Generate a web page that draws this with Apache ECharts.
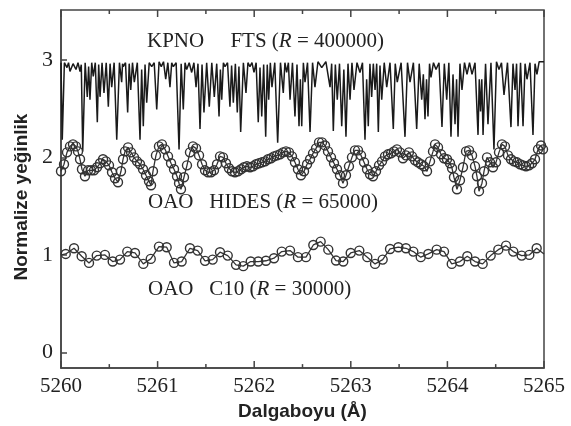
<!DOCTYPE html>
<html>
<head>
<meta charset="utf-8">
<script src="https://cdn.jsdelivr.net/npm/echarts@6/dist/echarts.min.js"></script>
<style>
html, body { margin: 0; padding: 0; background: #fff; }
#chart { width: 571px; height: 426px; }
</style>
</head>
<body>
<div id="chart"></div>
<script>
// tick labels
var xTicks = [5260, 5261, 5262, 5263, 5264, 5265];
var xMinorTicks = [5260.5, 5261.5, 5262.5, 5263.5, 5264.5];
var yTicks = [0, 1, 2, 3];
var yRange = [-0.16, 3.51];

// KPNO FTS (R = 400000): continuum / line-core points
var ftsData = [
	[5260.000,2.97],[5260.013,2.18],[5260.035,2.97],[5260.062,2.92],[5260.078,2.97],[5260.093,2.88],
	[5260.125,2.96],[5260.155,2.90],[5260.176,2.97],[5260.197,2.88],[5260.210,2.95],[5260.225,2.06],
	[5260.250,2.97],[5260.272,2.62],[5260.286,2.93],[5260.300,2.59],[5260.318,2.97],[5260.334,2.83],
	[5260.355,2.97],[5260.376,2.36],[5260.390,2.95],[5260.404,2.62],[5260.425,2.97],[5260.445,2.66],
	[5260.468,2.97],[5260.490,2.52],[5260.508,2.96],[5260.525,2.72],[5260.550,2.97],[5260.577,2.18],
	[5260.605,2.97],[5260.628,2.77],[5260.637,2.96],[5260.645,2.93],[5260.668,2.97],[5260.690,2.46],
	[5260.706,2.96],[5260.722,2.69],[5260.740,2.97],[5260.759,2.77],[5260.790,2.97],[5260.818,2.18],
	[5260.835,2.90],[5260.852,2.32],[5260.870,2.95],[5260.887,2.56],[5260.913,2.97],[5260.939,2.93],
	[5260.965,2.97],[5260.991,2.49],[5261.015,2.98],[5261.038,2.93],[5261.061,2.98],[5261.084,2.80],
	[5261.106,2.97],[5261.128,2.72],[5261.146,2.97],[5261.163,2.93],[5261.192,2.97],[5261.222,2.08],
	[5261.244,2.96],[5261.266,2.49],[5261.284,2.97],[5261.301,2.90],[5261.327,2.97],[5261.353,2.87],
	[5261.376,2.97],[5261.398,2.72],[5261.418,2.96],[5261.439,2.29],[5261.460,2.95],[5261.480,2.46],
	[5261.508,2.97],[5261.535,2.52],[5261.561,2.97],[5261.587,2.62],[5261.612,2.96],[5261.636,2.42],
	[5261.650,2.90],[5261.664,2.59],[5261.681,2.97],[5261.698,2.93],[5261.724,2.97],[5261.749,2.52],
	[5261.766,2.94],[5261.784,2.56],[5261.805,2.96],[5261.825,2.46],[5261.842,2.93],[5261.860,2.26],
	[5261.888,2.97],[5261.915,2.66],[5261.935,2.97],[5261.956,2.93],[5261.977,2.97],[5261.998,2.87],
	[5262.020,2.97],[5262.042,2.36],[5262.060,2.92],[5262.078,2.42],[5262.098,2.95],[5262.119,2.21],
	[5262.135,2.95],[5262.150,2.59],[5262.167,2.97],[5262.184,2.72],[5262.213,2.97],[5262.243,2.15],
	[5262.272,2.97],[5262.301,2.66],[5262.318,2.97],[5262.336,2.87],[5262.354,2.97],[5262.371,2.59],
	[5262.396,2.97],[5262.422,2.42],[5262.443,2.95],[5262.464,2.32],[5262.478,2.80],[5262.492,2.32],
	[5262.509,2.97],[5262.526,2.77],[5262.552,2.97],[5262.578,2.26],[5262.604,2.97],[5262.629,2.72],
	[5262.660,2.98],[5262.699,2.92],[5262.742,2.98],[5262.785,2.72],[5262.802,2.96],[5262.819,2.27],
	[5262.840,2.95],[5262.860,2.59],[5262.883,2.96],[5262.906,2.32],[5262.928,2.90],[5262.950,2.21],
	[5262.971,2.96],[5262.992,2.59],[5263.012,2.97],[5263.033,2.69],[5263.064,2.97],[5263.095,2.87],
	[5263.121,2.97],[5263.147,2.18],[5263.164,2.80],[5263.181,2.32],[5263.198,2.96],[5263.216,2.62],
	[5263.233,2.96],[5263.251,2.69],[5263.268,2.96],[5263.285,2.26],[5263.302,2.94],[5263.320,2.59],
	[5263.346,2.97],[5263.372,2.72],[5263.406,2.97],[5263.440,2.29],[5263.460,2.96],[5263.481,2.77],
	[5263.521,2.97],[5263.561,2.21],[5263.587,2.97],[5263.613,2.77],[5263.648,2.97],[5263.682,2.29],
	[5263.708,2.96],[5263.734,2.59],[5263.751,2.85],[5263.768,2.39],[5263.784,2.80],[5263.799,2.42],
	[5263.815,2.96],[5263.830,2.82],[5263.856,2.97],[5263.882,2.90],[5263.913,2.97],[5263.944,2.31],
	[5263.968,2.96],[5263.993,2.59],[5264.015,2.97],[5264.037,2.21],[5264.058,2.85],[5264.079,2.34],
	[5264.095,2.80],[5264.110,2.21],[5264.130,2.96],[5264.151,2.69],[5264.177,2.97],[5264.203,2.85],
	[5264.229,2.97],[5264.255,2.85],[5264.286,2.97],[5264.317,2.23],[5264.330,2.80],[5264.343,2.47],
	[5264.356,2.80],[5264.369,2.23],[5264.395,2.96],[5264.420,2.34],[5264.451,2.97],[5264.482,2.08],
	[5264.508,2.98],[5264.534,2.90],[5264.560,2.97],[5264.586,2.64],[5264.622,2.97],[5264.658,2.31],
	[5264.679,2.96],[5264.700,2.69],[5264.716,2.96],[5264.731,2.32],[5264.757,2.97],[5264.783,2.32],
	[5264.804,2.96],[5264.824,2.80],[5264.855,2.97],[5264.886,2.23],[5264.907,2.96],[5264.927,2.85],
	[5264.950,2.98],[5265.000,2.98]
];

// OAO HIDES (R = 65000)
var hidesData = [
	[5260.000,1.857],[5260.031,1.929],[5260.062,2.051],[5260.093,2.112],[5260.124,2.133],[5260.155,2.112],
	[5260.176,2.061],[5260.197,1.980],[5260.217,1.878],[5260.248,1.806],[5260.280,1.867],[5260.311,1.867],
	[5260.342,1.867],[5260.373,1.898],[5260.404,1.939],[5260.435,1.980],[5260.466,1.959],[5260.497,1.918],
	[5260.528,1.847],[5260.559,1.786],[5260.590,1.745],[5260.621,1.857],[5260.642,1.980],[5260.663,2.061],
	[5260.694,2.102],[5260.725,2.051],[5260.756,2.000],[5260.787,1.959],[5260.818,1.929],[5260.849,1.878],
	[5260.880,1.816],[5260.911,1.755],[5260.932,1.714],[5260.952,1.857],[5260.983,2.020],[5261.014,2.112],
	[5261.045,2.133],[5261.077,2.082],[5261.108,2.010],[5261.139,1.939],[5261.170,1.878],[5261.201,1.806],
	[5261.222,1.735],[5261.242,1.673],[5261.273,1.796],[5261.304,1.918],[5261.335,2.051],[5261.366,2.112],
	[5261.398,2.092],[5261.429,2.020],[5261.460,1.929],[5261.491,1.867],[5261.522,1.847],[5261.553,1.847],
	[5261.584,1.867],[5261.615,1.929],[5261.646,2.010],[5261.677,2.000],[5261.708,1.939],[5261.739,1.888],
	[5261.770,1.857],[5261.801,1.847],[5261.832,1.857],[5261.863,1.878],[5261.894,1.898],[5261.925,1.908],
	[5261.957,1.898],[5261.988,1.908],[5262.019,1.929],[5262.050,1.939],[5262.081,1.949],[5262.112,1.959],
	[5262.143,1.980],[5262.174,1.990],[5262.205,2.010],[5262.236,2.020],[5262.267,2.031],[5262.298,2.051],
	[5262.329,2.061],[5262.360,2.051],[5262.391,2.010],[5262.422,1.949],[5262.453,1.878],[5262.484,1.816],
	[5262.516,1.857],[5262.547,1.929],[5262.578,1.980],[5262.609,2.041],[5262.640,2.092],[5262.671,2.153],
	[5262.702,2.153],[5262.733,2.122],[5262.764,2.061],[5262.795,2.000],[5262.826,1.939],[5262.857,1.878],
	[5262.888,1.816],[5262.919,1.735],[5262.950,1.816],[5262.981,1.908],[5263.012,2.000],[5263.043,2.071],
	[5263.075,2.071],[5263.106,2.020],[5263.137,1.949],[5263.168,1.878],[5263.199,1.827],[5263.230,1.806],
	[5263.261,1.857],[5263.292,1.918],[5263.323,1.959],[5263.354,2.010],[5263.385,2.031],[5263.416,2.041],
	[5263.447,2.061],[5263.478,2.082],[5263.509,2.051],[5263.540,1.990],[5263.571,2.020],[5263.602,2.051],
	[5263.634,2.010],[5263.665,1.969],[5263.696,1.949],[5263.727,1.929],[5263.758,1.908],[5263.789,1.857],
	[5263.820,1.959],[5263.851,2.061],[5263.872,2.133],[5263.903,2.102],[5263.934,2.031],[5263.965,1.990],
	[5263.996,1.980],[5264.027,1.939],[5264.048,1.888],[5264.068,1.796],[5264.099,1.673],[5264.130,1.765],
	[5264.161,1.898],[5264.193,2.061],[5264.224,2.071],[5264.255,2.020],[5264.286,1.908],[5264.306,1.806],
	[5264.327,1.653],[5264.358,1.735],[5264.379,1.857],[5264.410,2.000],[5264.441,1.949],[5264.472,1.898],
	[5264.503,1.949],[5264.534,2.051],[5264.565,2.133],[5264.596,2.112],[5264.627,2.020],[5264.658,1.980],
	[5264.689,1.959],[5264.720,1.949],[5264.752,1.929],[5264.783,1.918],[5264.814,1.908],[5264.845,1.918],
	[5264.876,1.939],[5264.907,1.980],[5264.938,2.082],[5264.969,2.122],[5264.990,2.082]
];

// OAO C10 (R = 30000); first and last entries are where the trace meets the frame
var c10Data = [
	[5260.000,1.000],
	[5260.049,1.010],[5260.135,1.068],[5260.214,0.987],[5260.290,0.918],[5260.370,0.993],[5260.455,1.000],
	[5260.535,0.932],[5260.611,0.952],[5260.686,1.034],[5260.766,1.020],[5260.852,0.908],[5260.929,0.959],
	[5261.014,1.085],[5261.094,1.079],[5261.170,0.918],[5261.249,0.932],[5261.335,1.068],[5261.415,1.044],
	[5261.491,0.939],[5261.570,0.952],[5261.646,1.028],[5261.726,0.993],[5261.812,0.898],[5261.887,0.885],
	[5261.964,0.932],[5262.042,0.932],[5262.122,0.940],[5262.205,0.966],[5262.285,1.034],[5262.371,1.044],
	[5262.453,0.977],[5262.536,0.977],[5262.612,1.102],[5262.688,1.136],[5262.767,1.054],[5262.847,0.942],
	[5262.922,0.932],[5262.999,1.020],[5263.088,1.044],[5263.171,0.977],[5263.251,0.908],[5263.330,0.952],
	[5263.406,1.061],[5263.492,1.079],[5263.571,1.068],[5263.647,1.034],[5263.724,0.977],[5263.802,1.010],
	[5263.889,1.054],[5263.965,1.034],[5264.045,0.908],[5264.130,0.932],[5264.206,0.987],[5264.286,0.932],
	[5264.365,0.908],[5264.448,0.993],[5264.527,1.054],[5264.607,1.095],[5264.682,1.034],[5264.769,0.993],
	[5264.848,1.000],[5264.924,1.068],
	[5265.000,1.010]
];

var serif = '"Liberation Serif", "DejaVu Serif", serif';
var sans = '"Liberation Sans", Arial, sans-serif';
var ink = '#222';
var axisInk = '#444';

function buildC10() {
	var out = [];
	for (var i = 0; i < c10Data.length; i++) {
		if (i === 0 || i === c10Data.length - 1) {
			out.push({ value: c10Data[i], symbol: 'none' });
		} else {
			out.push(c10Data[i]);
		}
	}
	return out;
}

// [tick value, tick length in px] for the inward x ticks on the bottom and top frame
function buildTicks() {
	var out = [];
	for (var i = 0; i < xTicks.length; i++) out.push([xTicks[i], 7]);
	for (var j = 0; j < xMinorTicks.length; j++) out.push([xMinorTicks[j], 4]);
	return out;
}

function renderTick(params, api) {
	var x = api.value(0), len = api.value(1);
	var b = api.coord([x, yRange[0]]);
	var t = api.coord([x, yRange[1]]);
	var st = { stroke: axisInk, lineWidth: 1.5 };
	return {
		type: 'group',
		children: [
			{ type: 'line', shape: { x1: b[0], y1: b[1], x2: b[0], y2: b[1] - len }, style: st },
			{ type: 'line', shape: { x1: t[0], y1: t[1], x2: t[0], y2: t[1] + len }, style: st }
		]
	};
}

function label(x, y, parts) {
	// parts: [plain, italic, plain]
	return {
		type: 'text',
		x: x,
		y: y,
		style: {
			text: '{n|' + parts[0] + '}{i|' + parts[1] + '}{n|' + parts[2] + '}',
			fill: ink,
			verticalAlign: 'middle',
			rich: {
				n: { fontFamily: serif, fontSize: 21, fill: ink },
				i: { fontFamily: serif, fontSize: 21, fontStyle: 'italic', fill: ink }
			}
		}
	};
}

var chart = echarts.init(document.getElementById('chart'));

var option = {
	animation: false,
	backgroundColor: '#fff',
	grid: {
		left: 61, right: 27, top: 10, bottom: 56,
		show: true, borderColor: axisInk, borderWidth: 1.5, backgroundColor: 'transparent'
	},
	xAxis: {
		type: 'value',
		min: xTicks[0],
		max: xTicks[xTicks.length - 1],
		name: 'Dalgaboyu (Å)',
		nameLocation: 'middle',
		nameGap: 29,
		nameTextStyle: { fontFamily: sans, fontWeight: 'bold', fontSize: 19, color: ink },
		axisLine: { show: true, onZero: false, lineStyle: { color: axisInk, width: 1.5 } },
		axisTick: { show: false },
		axisLabel: {
			customValues: xTicks,
			fontFamily: serif, fontSize: 21, color: ink, margin: 8,
			formatter: function(v) { return String(v); }
		},
		splitLine: { show: false }
	},
	yAxis: {
		type: 'value',
		min: yRange[0],
		max: yRange[1],
		name: 'Normalize yeğinlik',
		nameLocation: 'middle',
		nameRotate: 90,
		nameGap: 30,
		nameTextStyle: { fontFamily: sans, fontWeight: 'bold', fontSize: 19, color: ink, padding: [0, 16, 0, 0] },
		axisLine: { show: true, onZero: false, lineStyle: { color: axisInk, width: 1.5 } },
		axisTick: { show: true, inside: true, length: 6, customValues: yTicks, lineStyle: { color: axisInk, width: 1.5 } },
		axisLabel: { fontFamily: serif, fontSize: 22, color: ink, margin: 8, customValues: yTicks },
		splitLine: { show: false }
	},
	graphic: [
		label(147, 41, ['KPNO     FTS (', 'R', ' = 400000)']),
		label(148, 202, ['OAO   HIDES (', 'R', ' = 65000)']),
		label(148, 289, ['OAO   C10 (', 'R', ' = 30000)'])
	],
	series: [{
		name: 'C10',
		type: 'line',
		data: buildC10(),
		symbol: 'circle',
		symbolSize: 9,
		lineStyle: { color: '#333', width: 1.3 },
		itemStyle: { color: 'rgba(0,0,0,0)', borderColor: '#333', borderWidth: 1.4 }
	}, {
		name: 'HIDES',
		type: 'line',
		data: hidesData,
		symbol: 'circle',
		symbolSize: 9,
		lineStyle: { color: '#333', width: 1.3 },
		itemStyle: { color: 'rgba(0,0,0,0)', borderColor: '#333', borderWidth: 1.4 }
	}, {
		name: 'FTS',
		type: 'line',
		data: ftsData,
		symbol: 'none',
		lineStyle: { color: '#1a1a1a', width: 1.5 }
	}, {
		name: 'ticks',
		type: 'custom',
		silent: true,
		clip: false,
		z: 5,
		encode: { x: 0 },
		data: buildTicks(),
		renderItem: renderTick
	}]
};

chart.setOption(option);
</script>
</body>
</html>
